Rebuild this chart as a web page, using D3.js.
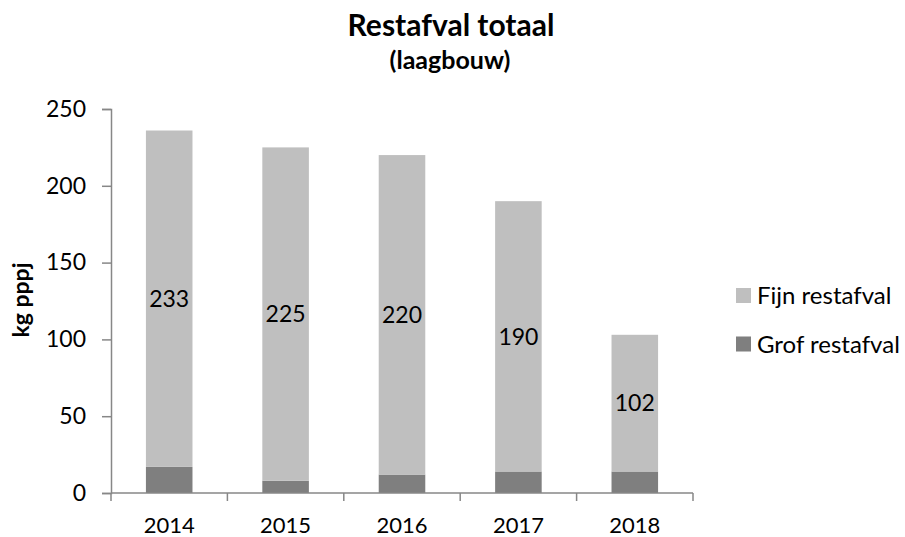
<!DOCTYPE html>
<html>
<head>
<meta charset="utf-8">
<script src="https://cdn.jsdelivr.net/npm/d3@7"></script>
<style>
    body { margin: 0; background: #fff; }
    text { font-family: Lato, sans-serif; fill: #000; }
</style>
</head>
<body>
<svg id="chart" width="905" height="537"></svg>
<script>
    'use strict';

    var years = ['2014', '2015', '2016', '2017', '2018'],
        grof = [17, 8, 12, 14, 14],
        fijn = [219, 217, 208, 176, 89],
        fijnLabels = ['233', '225', '220', '190', '102'],
        yTicks = [0, 50, 100, 150, 200, 250],
        seriesNames = ['Fijn restafval', 'Grof restafval'],
        colors = { fijn: '#bfbfbf', grof: '#7f7f7f' },
        axisColor = '#878787';

    var svg = d3.select('#chart'),
        plotLeft = 111,
        plotRight = 693,
        plotTop = 109,
        plotBottom = 493;

    var x = d3.scaleBand()
        .domain(years)
        .range([plotLeft, plotRight])
        .paddingInner(0.6)
        .paddingOuter(0.3);

    var y = d3.scaleLinear()
        .domain([0, 250])
        .range([plotBottom, plotTop]);

    var rows = years.map(function (yr, i) {
        return { year: yr, grof: grof[i], fijn: fijn[i], label: fijnLabels[i] };
    });

    var stack = d3.stack().keys(['grof', 'fijn'])(rows);

    // bars
    svg.append('g')
        .selectAll('g')
        .data(stack)
        .join('g')
        .attr('fill', function (s) { return colors[s.key]; })
        .selectAll('rect')
        .data(function (s) { return s; })
        .join('rect')
        .attr('x', function (d) { return x(d.data.year); })
        .attr('width', x.bandwidth())
        .attr('y', function (d) { return y(d[1]); })
        .attr('height', function (d) { return y(d[0]) - y(d[1]); });

    // data labels in the fijn segment
    svg.append('g')
        .selectAll('text')
        .data(stack[1])
        .join('text')
        .attr('x', function (d) { return x(d.data.year) + x.bandwidth() / 2; })
        .attr('y', function (d) { return (y(d[0]) + y(d[1])) / 2; })
        .attr('dy', '0.36em')
        .attr('text-anchor', 'middle')
        .style('font-size', '23px')
        .text(function (d) { return d.data.label; });

    // y axis
    var yAxis = svg.append('g')
        .attr('transform', 'translate(' + plotLeft + ',0)')
        .call(d3.axisLeft(y).tickValues(yTicks).tickSize(9).tickPadding(16));

    yAxis.selectAll('text').style('font-size', '23px').attr('font-family', null);
    yAxis.select('.domain').attr('stroke', axisColor).attr('stroke-width', 1.5);
    yAxis.selectAll('.tick line').attr('stroke', axisColor).attr('stroke-width', 1.5);

    // x axis with ticks on category boundaries
    var xAxis = svg.append('g')
        .attr('transform', 'translate(0,' + plotBottom + ')');

    xAxis.append('line')
        .attr('x1', plotLeft)
        .attr('x2', plotRight)
        .attr('stroke', axisColor)
        .attr('stroke-width', 1.5);

    var bounds = years.map(function (yr) { return x(yr) - x.step() * x.paddingInner() / 2; });
    bounds.push(plotRight);

    xAxis.selectAll('line.tick')
        .data(bounds)
        .join('line')
        .attr('class', 'tick')
        .attr('x1', function (d) { return d; })
        .attr('x2', function (d) { return d; })
        .attr('y1', 0)
        .attr('y2', 8)
        .attr('stroke', axisColor)
        .attr('stroke-width', 1.5);

    xAxis.selectAll('text')
        .data(years)
        .join('text')
        .attr('x', function (d) { return x(d) + x.bandwidth() / 2; })
        .attr('y', 40)
        .attr('text-anchor', 'middle')
        .style('font-size', '22px')
        .text(function (d) { return d; });

    // titles
    svg.append('text')
        .attr('x', 451)
        .attr('y', 36)
        .attr('text-anchor', 'middle')
        .style('font-size', '30px')
        .style('font-weight', 'bold')
        .text('Restafval totaal');

    svg.append('text')
        .attr('x', 450)
        .attr('y', 69)
        .attr('text-anchor', 'middle')
        .style('font-size', '25px')
        .style('font-weight', 'bold')
        .text('(laagbouw)');

    svg.append('text')
        .attr('transform', 'translate(29,300) rotate(-90)')
        .attr('text-anchor', 'middle')
        .style('font-size', '23px')
        .style('font-weight', 'bold')
        .text('kg pppj');

    // legend
    var legend = svg.append('g')
        .attr('transform', 'translate(736,288)')
        .selectAll('g')
        .data(seriesNames)
        .join('g')
        .attr('transform', function (d, i) { return 'translate(0,' + (i * 48.5) + ')'; });

    legend.append('rect')
        .attr('width', 15)
        .attr('height', 15)
        .attr('fill', function (d, i) { return i === 0 ? colors.fijn : colors.grof; });

    legend.append('text')
        .attr('x', 21)
        .attr('y', 7.5)
        .attr('dy', '0.36em')
        .style('font-size', '24px')
        .text(function (d) { return d; });
</script>
</body>
</html>
